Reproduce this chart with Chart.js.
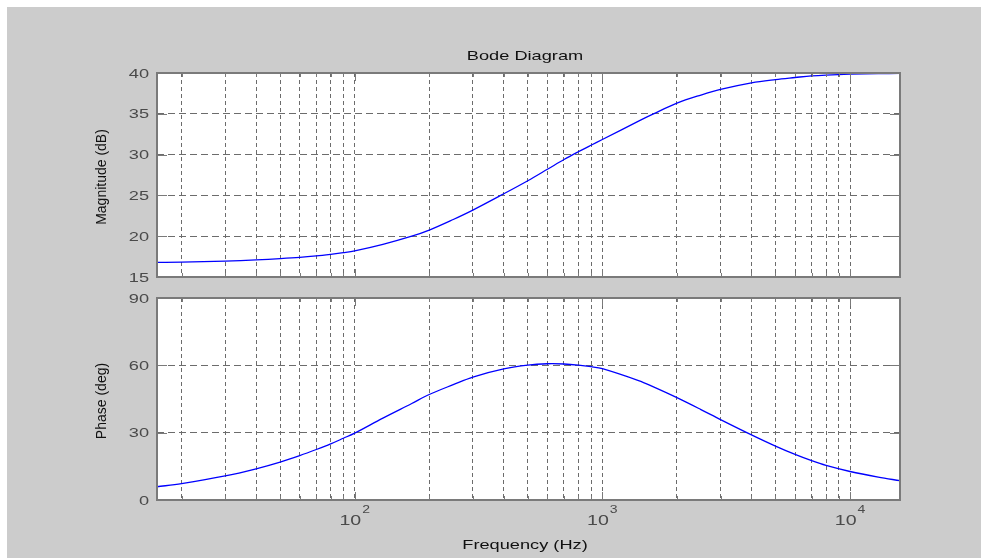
<!DOCTYPE html>
<html>
<head>
<meta charset="utf-8">
<script src="https://cdn.jsdelivr.net/npm/chart.js@4"></script>
<style>
  html, body { margin: 0; padding: 0; background: #ffffff; overflow: hidden; }
  #frame { position: absolute; left: 7px; top: 7px; right: 0; bottom: 0; background: #cccccc; }
  canvas { position: absolute; left: 0; top: 0; }
</style>
</head>
<body>
<div id="frame"></div>
<canvas id="magChart" width="981" height="558"></canvas>
<canvas id="phaseChart" width="981" height="558"></canvas>
<script>
// values (frequency in Hz)
const freqHz = [15.9, 20, 30, 40, 50, 60, 70, 80, 90, 100, 130, 170, 200, 250, 300, 400, 500, 600, 700, 800, 900,
    1000, 1400, 1600, 2000, 2500, 3000, 4000, 5000, 6000, 7000, 8000, 10000, 13000, 15915];
const magnitudeDb = [16.8, 16.82, 16.95, 17.1, 17.25, 17.4, 17.58, 17.78, 17.98, 18.2, 19.0, 20.0, 20.75, 22.05, 23.2, 25.2, 26.8, 28.2, 29.4, 30.35, 31.15,
    31.85, 34.1, 34.95, 36.3, 37.3, 38.0, 38.8, 39.2, 39.45, 39.65, 39.75, 39.85, 39.92, 39.95];
const phaseDeg = [5.9, 7.3, 10.7, 13.9, 16.9, 19.8, 22.5, 25.0, 27.5, 29.8, 36.5, 43.0, 47.0, 51.4, 54.8, 58.4, 60.1, 60.7, 60.6, 60.1, 59.4,
    58.5, 53.2, 50.5, 45.6, 40.3, 35.8, 29.0, 24.0, 20.3, 17.5, 15.4, 12.7, 10.2, 8.6];

// axes
const freqRange = [15.915, 15915];
const freqGrid = [20, 30, 40, 50, 60, 70, 80, 90, 100, 200, 300, 400, 500, 600, 700, 800, 900,
    1000, 2000, 3000, 4000, 5000, 6000, 7000, 8000, 9000, 10000];
const decadeTicks = [100, 1000, 10000];
const magTicks = [15, 20, 25, 30, 35, 40];
const phaseTicks = [0, 30, 60, 90];

const SX = 1.4;           // the reference text is stretched sideways
const FONT = '"Liberation Sans", Arial, sans-serif';
const BOX = '#7a7a7a';
const GRID = '#6c6c6c';
const TICK_TXT = '#4a4a4a';

function wideText(ctx, text, x, y, align, size, color) {
    ctx.save();
    ctx.font = size + 'px ' + FONT;
    ctx.fillStyle = color;
    ctx.textBaseline = 'middle';
    ctx.textAlign = align;
    ctx.translate(x, y);
    ctx.scale(SX, 1);
    ctx.fillText(text, 0, 0);
    ctx.restore();
}

function upText(ctx, text, x, y, size, color) {
    ctx.save();
    ctx.font = size + 'px ' + FONT;
    ctx.fillStyle = color;
    ctx.textBaseline = 'middle';
    ctx.textAlign = 'center';
    ctx.translate(x, y);
    ctx.rotate(-Math.PI / 2);
    ctx.fillText(text, 0, 0);
    ctx.restore();
}

// white plot area, box, inside tick marks and all the text
function panelPlugin(cfg) {
    return {
        id: 'panel',
        beforeDraw(chart) {
            const a = chart.chartArea, ctx = chart.ctx;
            ctx.save();
            ctx.fillStyle = '#ffffff';
            ctx.fillRect(a.left, a.top, a.right - a.left, a.bottom - a.top);
            ctx.restore();
        },
        afterDraw(chart) {
            const a = chart.chartArea, ctx = chart.ctx;
            const xs = chart.scales.x, ys = chart.scales.y;
            ctx.save();
            ctx.strokeStyle = BOX;
            ctx.lineWidth = 1;
            ctx.beginPath();
            freqGrid.forEach(f => {
                const px = Math.round(xs.getPixelForValue(f)) + 0.5;
                const len = decadeTicks.includes(f) ? 8 : 4;
                ctx.moveTo(px, a.bottom); ctx.lineTo(px, a.bottom - len);
                ctx.moveTo(px, a.top); ctx.lineTo(px, a.top + len);
            });
            cfg.yTicks.forEach(v => {
                const py = Math.round(ys.getPixelForValue(v)) + 0.5;
                ctx.moveTo(a.left, py); ctx.lineTo(a.left + 10, py);
                ctx.moveTo(a.right, py); ctx.lineTo(a.right - 10, py);
            });
            ctx.stroke();
            ctx.lineWidth = 2;
            ctx.strokeRect(a.left, a.top, a.right - a.left, a.bottom - a.top);
            ctx.restore();

            cfg.yTicks.forEach(v => {
                wideText(ctx, String(v), a.left - 8, ys.getPixelForValue(v) + 1, 'right', 13, TICK_TXT);
            });
            upText(ctx, cfg.yTitle, 102, (a.top + a.bottom) / 2 + cfg.yTitleShift, 14, '#111111');

            if (cfg.title) {
                wideText(ctx, cfg.title, 525, 56, 'center', 13, '#111111');
            }
            if (cfg.xLabels) {
                decadeTicks.forEach(f => {
                    const exp = String(Math.round(Math.log10(f)));
                    ctx.save();
                    ctx.font = '14px ' + FONT;
                    const wBase = ctx.measureText('10').width * SX;
                    ctx.font = '10px ' + FONT;
                    const wExp = ctx.measureText(exp).width * SX;
                    ctx.restore();
                    const x0 = xs.getPixelForValue(f) - (wBase + wExp + 1) / 2;
                    wideText(ctx, '10', x0, 521, 'left', 14, TICK_TXT);
                    wideText(ctx, exp, x0 + wBase + 1, 510, 'left', 10, TICK_TXT);
                });
                wideText(ctx, 'Frequency (Hz)', 525, 545, 'center', 13, '#111111');
            }
        }
    };
}

function makePanel(id, values, yMin, yMax, yTicks, padding, cfg) {
    return new Chart(document.getElementById(id), {
        type: 'line',
        data: {
            datasets: [{
                data: freqHz.map((f, i) => ({ x: f, y: values[i] })),
                borderColor: '#0000ff',
                borderWidth: 1.3,
                pointRadius: 0,
                fill: false,
                tension: 0.35
            }]
        },
        options: {
            responsive: false,
            animation: false,
            devicePixelRatio: 1,
            events: [],
            layout: { padding: padding },
            plugins: { legend: { display: false }, tooltip: { enabled: false }, title: { display: false } },
            scales: {
                x: {
                    type: 'logarithmic',
                    min: freqRange[0],
                    max: freqRange[1],
                    afterBuildTicks: s => { s.ticks = freqGrid.map(v => ({ value: v })); },
                    ticks: { display: false, autoSkip: false },
                    grid: { color: GRID, lineWidth: 1, drawTicks: false },
                    border: { display: false, dash: [4, 3] }
                },
                y: {
                    type: 'linear',
                    min: yMin,
                    max: yMax,
                    afterBuildTicks: s => { s.ticks = yTicks.map(v => ({ value: v })); },
                    ticks: { display: false, autoSkip: false },
                    grid: { color: GRID, lineWidth: 1, drawTicks: false },
                    border: { display: false, dash: [7, 4] }
                }
            }
        },
        plugins: [panelPlugin(Object.assign({ yTicks: yTicks }, cfg))]
    });
}

makePanel('magChart', magnitudeDb, 15, 40, magTicks,
    { left: 157, top: 73, right: 81, bottom: 281 },
    { title: 'Bode Diagram', yTitle: 'Magnitude (dB)', yTitleShift: 2 });
makePanel('phaseChart', phaseDeg, 0, 90, phaseTicks,
    { left: 157, top: 298, right: 81, bottom: 58 },
    { xLabels: true, yTitle: 'Phase (deg)', yTitleShift: 2 });
</script>
</body>
</html>
